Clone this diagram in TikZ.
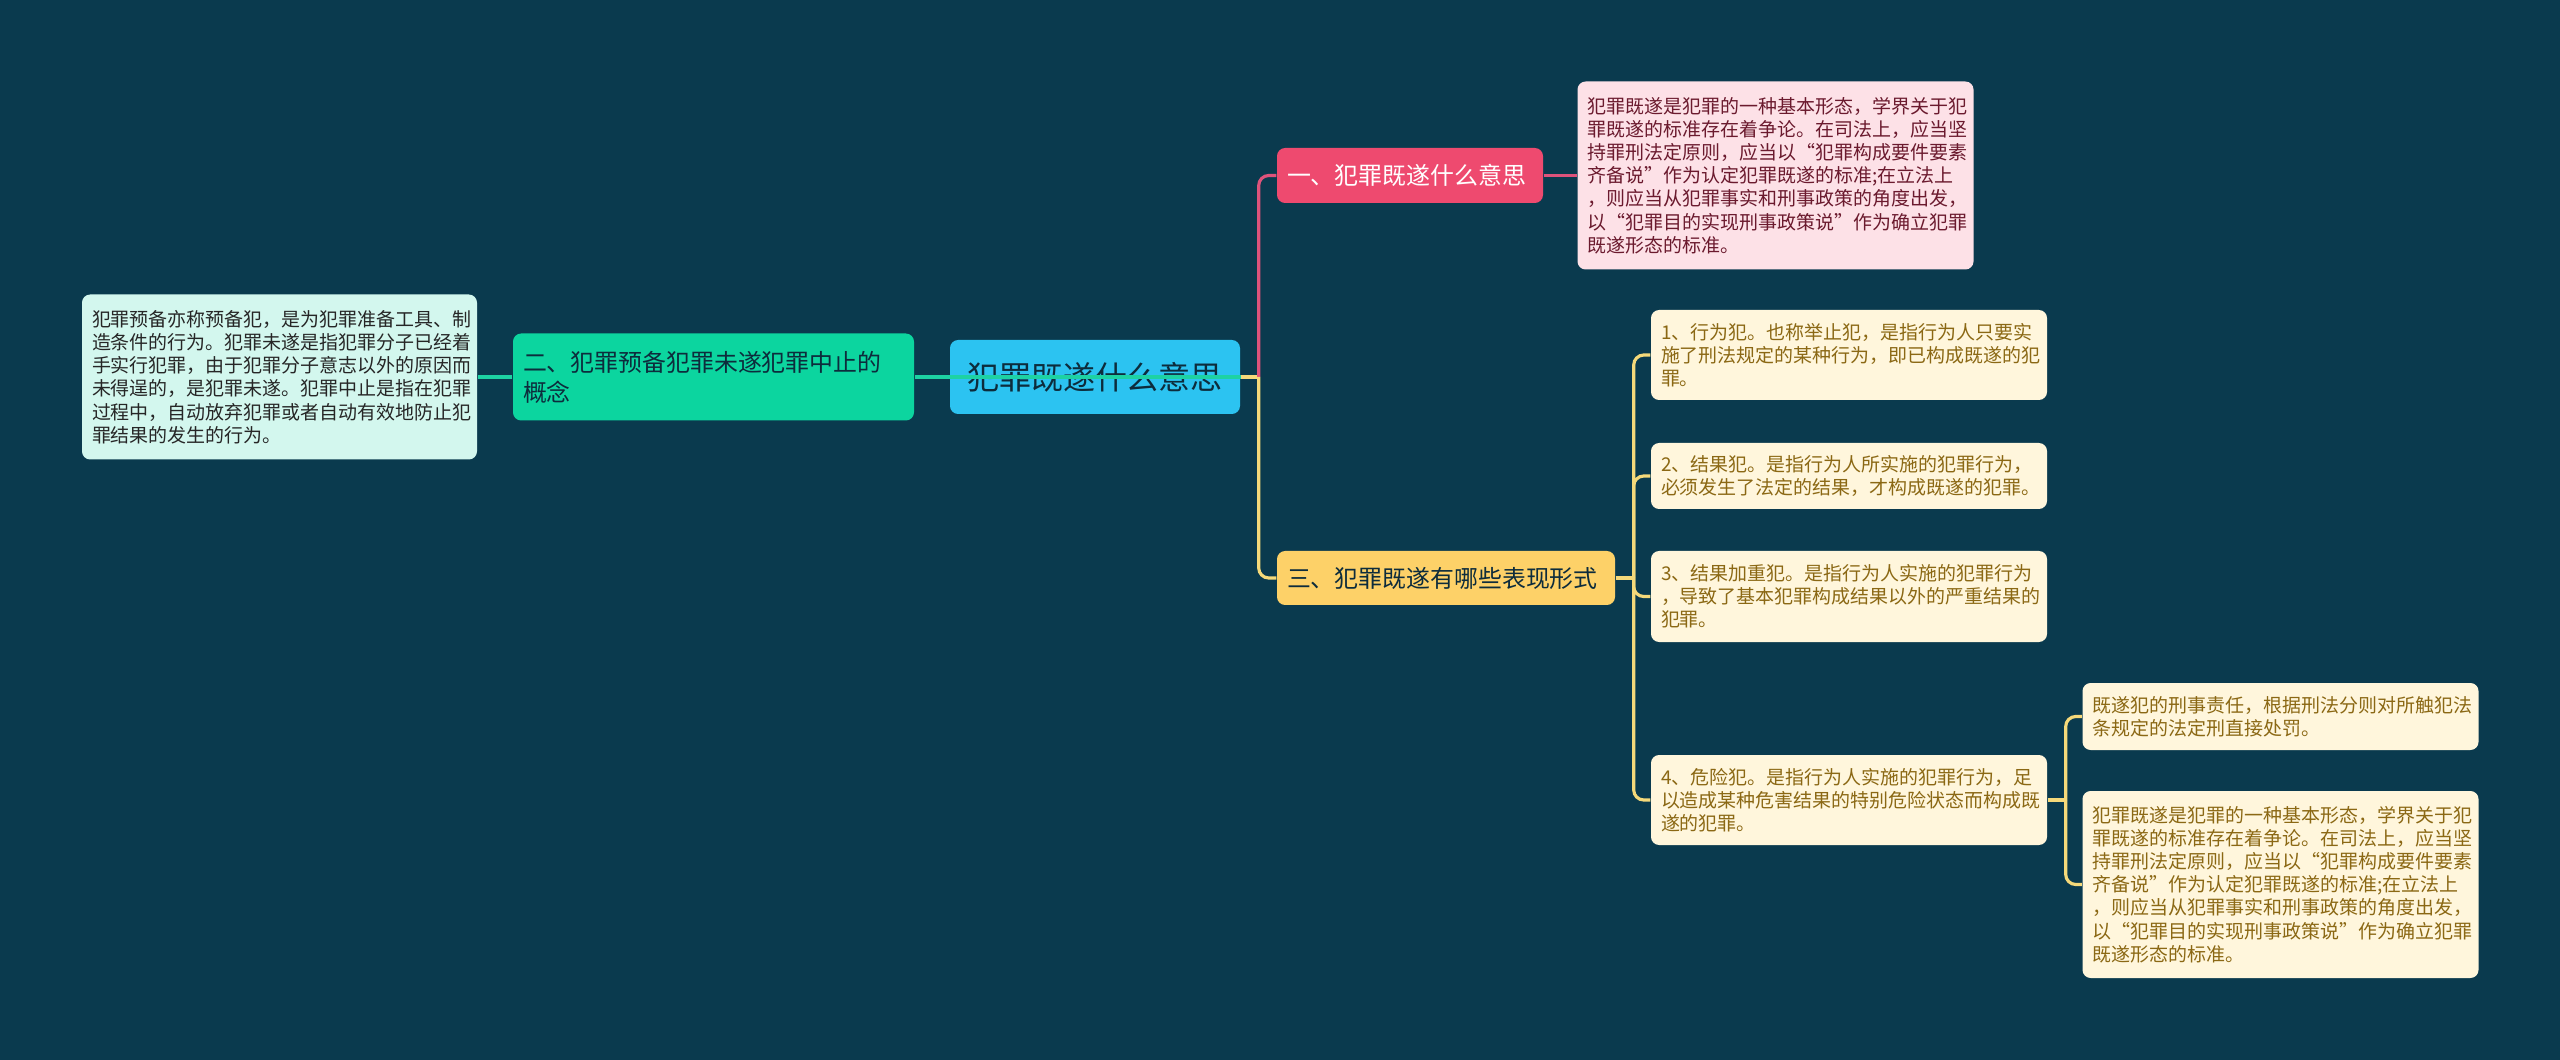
\documentclass[tikz,border=0pt]{standalone}
\usepackage{fontspec}
\setmainfont{Noto Sans CJK SC}
\usepackage{tikz}
\usetikzlibrary{positioning,calc}
\definecolor{bgteal}{HTML}{0A3A4E}
\definecolor{rootblue}{HTML}{2CC3F1}
\definecolor{rootink}{HTML}{0D2C3C}
\definecolor{mint}{HTML}{0CD59F}
\definecolor{mintline}{HTML}{1DD2A3}
\definecolor{mintsoft}{HTML}{D3F7EE}
\definecolor{rose}{HTML}{EE4A6F}
\definecolor{roseline}{HTML}{DE537B}
\definecolor{rosesoft}{HTML}{FDE1E7}
\definecolor{roseink}{HTML}{6B1A2E}
\definecolor{gold}{HTML}{FDD168}
\definecolor{goldline}{HTML}{F5D97A}
\definecolor{goldsoft}{HTML}{FFF6DC}
\definecolor{goldink}{HTML}{8B6814}

\begin{document}
\begin{tikzpicture}[
  box/.style={rounded corners=2.3pt,inner xsep=0.1cm,inner ysep=0pt,align=left},
  note/.style={box,text width=3.76cm,font=\fontsize{5.4}{6.6}\selectfont},
  topic/.style={box,font=\fontsize{6.8}{8.5}\selectfont},
  gline/.style={draw=mintline,line width=0.9pt},
  pline/.style={draw=roseline,line width=0.9pt},
  yline/.style={draw=goldline,line width=0.9pt,rounded corners=0.1cm}
]
\fill[bgteal] (0,0) rectangle (25.6,-10.6);

\node[box,fill=rootblue,text=rootink,align=center,minimum width=2.9cm,minimum height=0.74cm,font=\fontsize{9.1}{11}\selectfont] (root) at (10.95,-3.77) {犯罪既遂什么意思};

\node[topic,fill=mint,text=rootink,text width=3.81cm,minimum height=0.87cm] (two) at (7.135,-3.77) {二、犯罪预备犯罪未遂犯罪中止的\\概念};
\node[note,fill=mintsoft,text=black!85,text width=3.75cm,minimum height=1.65cm] (twotxt) at (2.795,-3.77) {犯罪预备亦称预备犯，是为犯罪准备工具、制\\造条件的行为。犯罪未遂是指犯罪分子已经着\\手实行犯罪，由于犯罪分子意志以外的原因而\\未得逞的，是犯罪未遂。犯罪中止是指在犯罪\\过程中，自动放弃犯罪或者自动有效地防止犯\\罪结果的发生的行为。};

\node[topic,fill=rose,text=white,text width=2.46cm,minimum height=0.55cm] (one) at (14.10,-1.755) {一、犯罪既遂什么意思};
\node[note,fill=rosesoft,text=roseink,minimum height=1.88cm] (onetxt) at (17.755,-1.755) {犯罪既遂是犯罪的一种基本形态，学界关于犯\\罪既遂的标准存在着争论。在司法上，应当坚\\持罪刑法定原则，应当以“犯罪构成要件要素\\齐备说”作为认定犯罪既遂的标准;在立法上\\，则应当从犯罪事实和刑事政策的角度出发，\\以“犯罪目的实现刑事政策说”作为确立犯罪\\既遂形态的标准。};

\node[topic,fill=gold,text=rootink,text width=3.18cm,minimum height=0.54cm] (three) at (14.46,-5.78) {三、犯罪既遂有哪些表现形式};

\node[note,fill=goldsoft,text=goldink,minimum height=0.90cm] (i1) at (18.49,-3.55) {1、行为犯。也称举止犯，是指行为人只要实\\施了刑法规定的某种行为，即已构成既遂的犯\\罪。};
\node[note,fill=goldsoft,text=goldink,minimum height=0.66cm] (i2) at (18.49,-4.76) {2、结果犯。是指行为人所实施的犯罪行为，\\必须发生了法定的结果，才构成既遂的犯罪。};
\node[note,fill=goldsoft,text=goldink,minimum height=0.91cm] (i3) at (18.49,-5.965) {3、结果加重犯。是指行为人实施的犯罪行为\\，导致了基本犯罪构成结果以外的严重结果的\\犯罪。};
\node[note,fill=goldsoft,text=goldink,minimum height=0.90cm] (i4) at (18.49,-8.00) {4、危险犯。是指行为人实施的犯罪行为，足\\以造成某种危害结果的特别危险状态而构成既\\遂的犯罪。};

\node[note,fill=goldsoft,text=goldink,minimum height=0.67cm] (s1) at (22.805,-7.165) {既遂犯的刑事责任，根据刑法分则对所触犯法\\条规定的法定刑直接处罚。};
\node[note,fill=goldsoft,text=goldink,minimum height=1.87cm] (s2) at (22.805,-8.845) {犯罪既遂是犯罪的一种基本形态，学界关于犯\\罪既遂的标准存在着争论。在司法上，应当坚\\持罪刑法定原则，应当以“犯罪构成要件要素\\齐备说”作为认定犯罪既遂的标准;在立法上\\，则应当从犯罪事实和刑事政策的角度出发，\\以“犯罪目的实现刑事政策说”作为确立犯罪\\既遂形态的标准。};

\coordinate (j1) at ([xshift=0.18cm]root.east);
\coordinate (j2) at ([xshift=0.18cm]three.east);
\coordinate (j3) at ([xshift=0.18cm]i4.east);

\draw[gline] (root.east) -- (two.east);
\draw[gline] (two.west) -- (twotxt.east);
\draw[yline] (root.east) -- (j1);
\draw[pline,rounded corners=0.1cm] (j1) |- (one.west);
\draw[pline] (one.east) -- (onetxt.west);
\draw[yline] (j1) |- (three.west);
\draw[yline] (three.east) -- (j2);
\draw[yline] (j2) |- (i1.west);
\draw[yline] (j2) |- (i2.west);
\draw[yline] (j2) |- (i3.west);
\draw[yline] (j2) |- (i4.west);
\draw[yline] (i4.east) -- (j3);
\draw[yline] (j3) |- (s1.west);
\draw[yline] (j3) |- (s2.west);
\end{tikzpicture}
\end{document}
